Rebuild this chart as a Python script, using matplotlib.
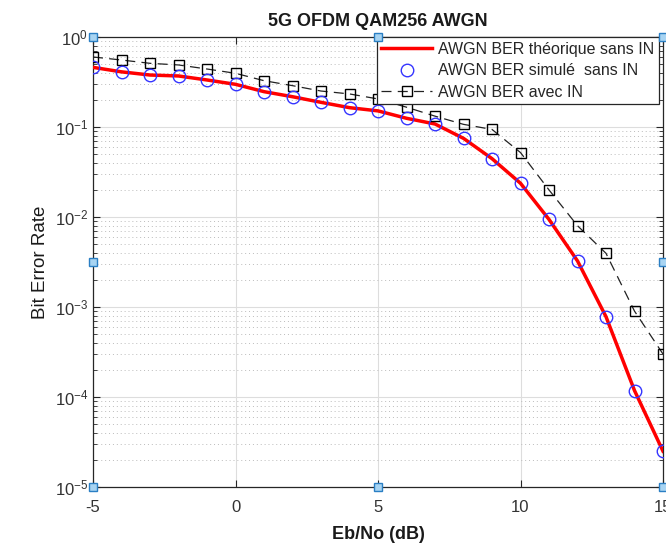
import numpy as np
import matplotlib
matplotlib.use("Agg")
import matplotlib.pyplot as plt
from matplotlib.ticker import LogLocator, NullFormatter, FixedLocator

plt.rcParams['font.family'] = ['Liberation Sans', 'DejaVu Sans']
plt.rcParams['mathtext.fontset'] = 'custom'
plt.rcParams['mathtext.rm'] = 'Liberation Sans'

ebno = [-5, -4, -3, -2, -1, 0, 1, 2, 3, 4, 5, 6, 7, 8, 9, 10, 11, 12, 13, 14, 15]
ber_theory = [0.46, 0.41, 0.378, 0.369, 0.333, 0.298, 0.247, 0.217, 0.188, 0.164,
              0.151, 0.125, 0.108, 0.0748, 0.0445, 0.0237, 0.0094, 0.00325,
              7.8e-4, 1.18e-4, 2.5e-5]
ber_sim = [0.46, 0.41, 0.378, 0.369, 0.333, 0.298, 0.247, 0.217, 0.188, 0.164,
           0.151, 0.125, 0.108, 0.0748, 0.0445, 0.0237, 0.0094, 0.00325,
           7.8e-4, 1.18e-4, 2.5e-5]
ber_in = [0.60, 0.555, 0.51, 0.489, 0.441, 0.395, 0.327, 0.288, 0.251, 0.233,
          0.205, 0.166, 0.132, 0.107, 0.094, 0.052, 0.020, 0.008, 0.00395,
          9.0e-4, 3.0e-4]
xticks = [-5, 0, 5, 10, 15]
ytick_exp = [0, -1, -2, -3, -4, -5]

W, H = 666, 546
fig = plt.figure(figsize=(W / 100, H / 100), dpi=100)
fig.patch.set_facecolor('white')
left, right, top, bottom = 93, 663, 37, 487
ax = fig.add_axes([left / W, 1 - bottom / H, (right - left) / W, (bottom - top) / H])

ax.semilogy(ebno, ber_theory, color='#ff0000', lw=2.5, label='AWGN BER théorique sans IN', zorder=3)
ax.semilogy(ebno, ber_sim, 'o', ms=9, mfc='none', mec='#3535ff', mew=1.0,
            label='AWGN BER simulé  sans IN', zorder=4)
ax.semilogy(ebno, ber_in, color='#222222', ls=(0, (8, 5)), lw=0.9, marker='s', ms=6.5,
            mfc='none', mec='black', mew=1.0, label='AWGN BER avec IN', zorder=3)

ax.set_xlim(-5, 15)
ax.set_ylim(1e-5, 1)
ax.set_xticks(xticks)
ax.set_xticklabels([str(v) for v in xticks])
ax.yaxis.set_major_locator(FixedLocator([10.0 ** e for e in ytick_exp]))
ax.set_yticklabels([r'$\mathregular{10^{%d}}$' % e for e in ytick_exp])
ax.yaxis.set_minor_locator(LogLocator(base=10, subs=np.arange(2, 10), numticks=20))
ax.yaxis.set_minor_formatter(NullFormatter())

ax.tick_params(axis='both', which='both', direction='in', top=True, right=True,
               labelsize=12, labelcolor='#333333', color='#262626')
ax.tick_params(axis='x', pad=9)
ax.tick_params(which='major', length=5)
ax.tick_params(which='minor', length=3)
for s in ax.spines.values():
    s.set_color('#262626')
    s.set_linewidth(0.9)

ax.grid(True, which='major', color='#dddddd', lw=0.8, ls='-')
ax.grid(True, which='minor', axis='y', color='#bbbbbb', lw=0.7, ls=(0, (1, 3)))
ax.set_axisbelow(True)

ax.set_title('5G OFDM QAM256 AWGN', fontsize=13, fontweight='bold', color='#1a1a1a', pad=8)
ax.set_xlabel('Eb/No (dB)', fontsize=13, fontweight='bold', color='#1a1a1a', labelpad=8)
ax.set_ylabel('Bit Error Rate', fontsize=13.5, color='#1a1a1a', labelpad=4)

leg = ax.legend(loc='upper right', bbox_to_anchor=(1 - 4 / 570, 1), fontsize=11.5,
                frameon=True, fancybox=False, edgecolor='#262626', framealpha=1,
                borderpad=0.3, handlelength=3.2, handletextpad=0.35, labelspacing=0.4,
                borderaxespad=0.0)
leg.get_frame().set_linewidth(0.9)
for t in leg.get_texts():
    t.set_color('#262626')

# selection handles
hx = [0, 0.5, 1, 0, 1, 0, 0.5, 1]
hy = [1, 1, 1, 0.5, 0.5, 0, 0, 0]
ax.plot(hx, hy, 's', transform=ax.transAxes, ms=6, mfc='#a8d4f2', mec='#2a7fc4',
        mew=1.0, clip_on=False, zorder=10)

fig.savefig('out.png', dpi=100)
